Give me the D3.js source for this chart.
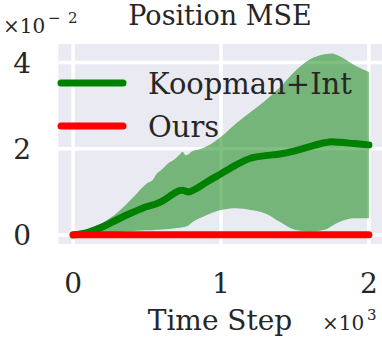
<!DOCTYPE html>
<html><head><meta charset="utf-8">
<script src="https://cdn.jsdelivr.net/npm/d3@7"></script>
<style>html,body{margin:0;padding:0;background:#fff;overflow:hidden}</style>
</head><body>
<svg id="c" width="382" height="341"></svg>
<script>
const timeSteps = [0,100,200,300,400,500,540,560,600,650,680,700,720,740,760,780,800,850,900,1000,1100,1200,1300,1400,1500,1600,1700,1750,1800,1900,2000];
const koopmanMean = [0,.0006,.0019,.0036,.0052,.0066,.0070,.0072,.0078,.0089,.0096,.0100,.0103,.0104,.0102,.0100,.0102,.0111,.0122,.0142,.0162,.0178,.0184,.0188,.0195,.0205,.0214,.0216,.0215,.0212,.0209];
const koopmanUpper = [0,.0010,.0028,.0052,.0085,.0120,.0128,.0140,.0152,.0168,.0174,.0180,.0186,.0193,.0185,.0187,.0193,.0198,.0205,.0228,.0258,.0285,.0312,.0343,.0380,.0407,.0419,.0421,.0415,.0394,.0378];
const koopmanLower = [0,.0003,.0005,.0007,.0009,.0011,.0011,.0012,.0013,.0014,.0015,.0016,.0017,.0018,.0019,.0022,.0028,.0038,.0046,.0058,.0062,.0058,.0050,.0030,.0012,.0008,.0012,.0021,.0030,.0039,.0039];
const oursMean = timeSteps.map(() => 0.00003);
const xTicks = [0,1000,2000];
const xTickLabels = ["0","1","2"];
const yTicks = [0,0.02,0.04];
const yTickLabels = ["0","2","4"];
const seriesNames = ["Koopman+Int","Ours"];
const seriesColors = ["#008000","#ff0000"];

const svg = d3.select("#c");
const font = "'DejaVu Serif', serif";
const x = d3.scaleLinear().domain([-100,2100]).range([58.3,383.7]);
const y = d3.scaleLinear().domain([-0.0021,0.0443]).range([244.06,43.96]);

svg.append("rect").attr("x",x(-100)).attr("y",y(0.0443)).attr("width",x(2100)-x(-100)).attr("height",y(-0.0021)-y(0.0443)).attr("fill","#eaeaf2");
const g = svg.append("g");
xTicks.forEach(t=>g.append("line").attr("x1",x(t)).attr("x2",x(t)).attr("y1",y(0.0443)).attr("y2",y(-0.0021)).attr("stroke","#fff").attr("stroke-width",3.5));
yTicks.forEach(t=>g.append("line").attr("x1",x(-100)).attr("x2",x(2100)).attr("y1",y(t)).attr("y2",y(t)).attr("stroke","#fff").attr("stroke-width",3.5));

const idx = d3.range(timeSteps.length);
const area = d3.area().x(i=>x(timeSteps[i])).y0(i=>y(koopmanLower[i])).y1(i=>y(koopmanUpper[i])).curve(d3.curveMonotoneX);
svg.append("path").attr("d",area(idx)).attr("fill","#008000").attr("fill-opacity",0.5);

const lineK = d3.line().x(i=>x(timeSteps[i])).y(i=>y(koopmanMean[i])).curve(d3.curveMonotoneX);
svg.append("path").attr("d",lineK(idx)).attr("fill","none").attr("stroke",seriesColors[0]).attr("stroke-width",7).attr("stroke-linecap","round").attr("stroke-linejoin","round");
const lineO = d3.line().x(i=>x(timeSteps[i])).y(i=>y(oursMean[i]));
svg.append("path").attr("d",lineO(idx)).attr("fill","none").attr("stroke",seriesColors[1]).attr("stroke-width",7).attr("stroke-linecap","round");

// ticks
xTicks.forEach((t,i)=>svg.append("text").attr("x",x(t)).attr("y",293).attr("text-anchor","middle").attr("font-family",font).attr("font-size",28).attr("fill","#262626").text(xTickLabels[i]));
yTicks.forEach((t,i)=>svg.append("text").attr("x",31).attr("y",y(t)+10).attr("text-anchor","end").attr("font-family",font).attr("font-size",28).attr("fill","#262626").text(yTickLabels[i]));

// title & labels
svg.append("text").attr("x",220).attr("y",25).attr("text-anchor","middle").attr("font-family",font).attr("font-size",27).attr("fill","#262626").text("Position MSE");
svg.append("text").attr("x",220).attr("y",330).attr("text-anchor","middle").attr("font-family",font).attr("font-size",28).attr("fill","#262626").text("Time Step");

const m1 = svg.append("text").attr("x",3).attr("y",33).attr("font-family",font).attr("font-size",20).attr("fill","#262626");
m1.append("tspan").text("×10");
m1.append("tspan").attr("x",48).attr("y",23).attr("font-size",15).text("−");
m1.append("tspan").attr("x",68).attr("y",23).attr("font-size",15).text("2");
const m2 = svg.append("text").attr("x",322).attr("y",330).attr("font-family",font).attr("font-size",20).attr("fill","#262626");
m2.append("tspan").text("×10");
m2.append("tspan").attr("x",367).attr("y",320).attr("font-size",15).text("3");

// legend
const legY = [83,126];
const legBase = [94,137];
seriesNames.forEach((n,i)=>{
  svg.append("line").attr("x1",61).attr("x2",123).attr("y1",legY[i]).attr("y2",legY[i]).attr("stroke",seriesColors[i]).attr("stroke-width",7).attr("stroke-linecap","round");
  svg.append("text").attr("x",148).attr("y",legBase[i]).attr("font-family",font).attr("font-size",29).attr("fill","#262626").text(n);
});
</script>
</body></html>
